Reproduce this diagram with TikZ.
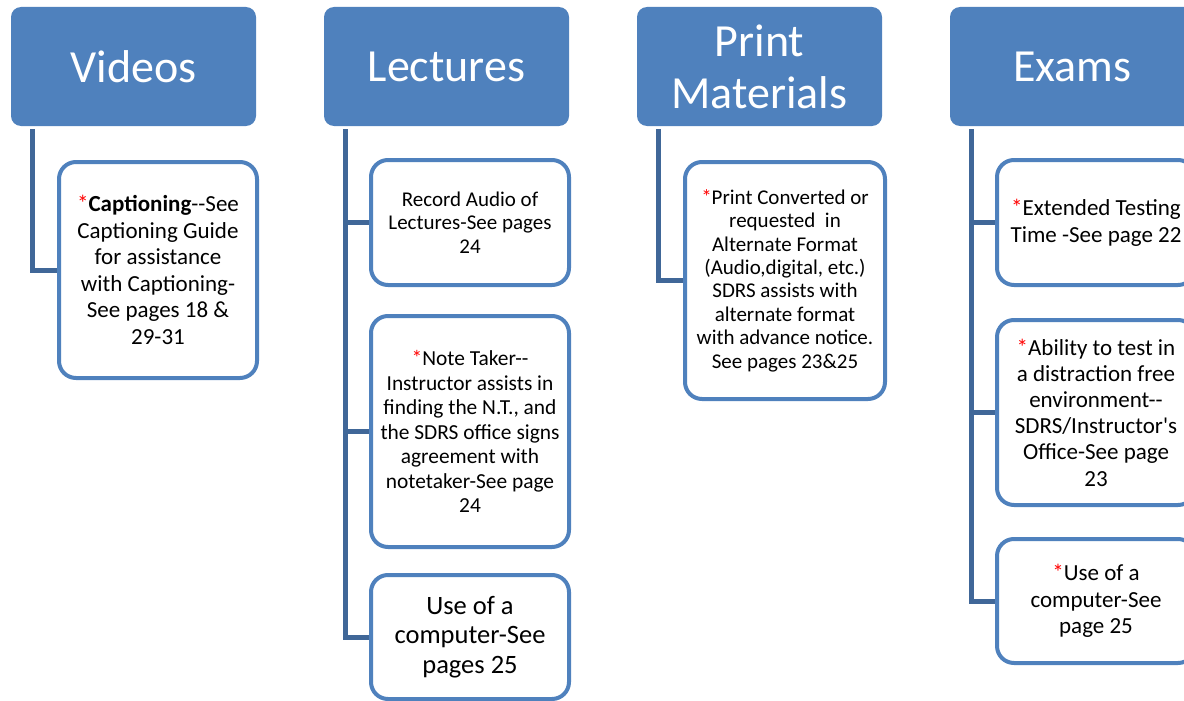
\documentclass[tikz,border=0pt]{standalone}
\usepackage{fontspec}
\setmainfont{Carlito}
\newfontfamily\plainfont{Carlito}
\definecolor{hdr}{RGB}{79,129,189}
\definecolor{conn}{RGB}{64,103,152}
\definecolor{star}{RGB}{255,0,0}
\newcommand{\st}{{\color{star}*}}
\tikzset{
  header/.style={rectangle, rounded corners=10pt, fill=hdr, draw=none, text=white,
    minimum width=245pt, minimum height=119pt, inner sep=0pt, align=center,
    font=\fontsize{46}{52}\selectfont},
  child/.style={rectangle, rounded corners=17pt, fill=white, draw=hdr, line width=4pt,
    minimum width=198pt, inner sep=0pt, align=center},
  conn/.style={draw=conn, line width=5pt, line join=miter, line cap=butt}
}
\begin{document}
\begin{tikzpicture}[x=1pt,y=-1pt]
\useasboundingbox (0,0) rectangle (1184,701);
\clip (0,0) rectangle (1184,701);
% headers
\node[header] (V) at (133.5,66.5) {Videos};
\node[header] (L) at (446.5,66.5) {Lectures};
\node[header] (P) at (759.5,66.5) {Print\\Materials};
\node[header] (E) at (1072.5,66.5) {Exams};
% children
\node[child, minimum height=216pt, font=\fontsize{23}{26.5}\selectfont] (V1) at (158,270)
  {\st\textbf{Captioning}-{}-See\\Captioning Guide\\for assistance\\with Captioning-\\See pages 18 \&\\29-31};
\node[child, minimum height=125pt, font=\fontsize{21}{23.5}\selectfont] (L1) at (470,222.5)
  {Record Audio of\\Lectures-See pages\\24};
\node[child, minimum height=231pt, font=\fontsize{21.4}{24.5}\selectfont] (L2) at (470,431.5)
  {\st Note Taker-{}-\\Instructor assists in\\finding the N.T., and\\the SDRS office signs\\agreement with\\notetaker-See page\\24};
\node[child, minimum height=124pt, font=\fontsize{26.5}{29.5}\selectfont] (L3) at (470,637)
  {Use of a\\computer-See\\pages 25};
\node[child, minimum width=200pt, minimum height=237pt, font=\fontsize{21}{23.4}\selectfont] (P1) at (785,280.5)
  {\st Print Converted or\\requested\ \ in\\Alternate Format\\(Audio,digital, etc.)\\SDRS assists with\\alternate format\\with advance notice.\\See pages 23\&25};
\node[child, minimum height=125pt, font=\fontsize{23}{27}\selectfont] (E1) at (1096,222.5)
  {\st Extended Testing\\Time -See page 22};
\node[child, minimum height=185pt, font=\fontsize{23}{26.2}\selectfont] (E2) at (1096,412.5)
  {\st Ability to test in\\a distraction free\\environment-{}-\\SDRS/Instructor{\plainfont '}s\\Office-See page\\23};
\node[child, minimum height=124pt, font=\fontsize{23}{26.5}\selectfont] (E3) at (1096,601)
  {\st Use of a\\computer-See\\page 25};
% connectors
\coordinate (Vt) at ([xshift=22pt,yshift=-3pt]V.south west);
\coordinate (Lt) at ([xshift=22pt,yshift=-3pt]L.south west);
\coordinate (Pt) at ([xshift=22pt,yshift=-3pt]P.south west);
\coordinate (Et) at ([xshift=22pt,yshift=-3pt]E.south west);
\path[conn] (Vt) |- (V1.west);
\path[conn] (Lt) |- (L1.west);
\path[conn] (Lt) |- (L2.west);
\path[conn] (Lt) |- (L3.west);
\path[conn] (Pt) |- (P1.west);
\path[conn] (Et) |- (E1.west);
\path[conn] (Et) |- (E2.west);
\path[conn] (Et) |- (E3.west);
\end{tikzpicture}
\end{document}
